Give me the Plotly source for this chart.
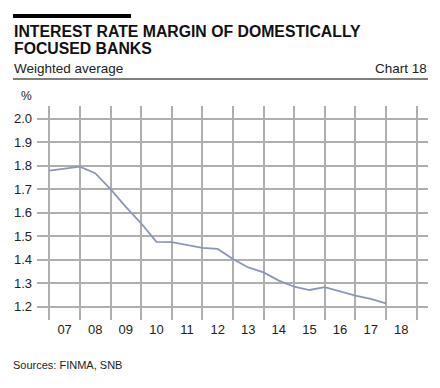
import plotly.graph_objects as go

# ---- data ----
years = [2007.0, 2008.0, 2008.5, 2009.0, 2009.5, 2010.0, 2010.5, 2011.0, 2012.0,
         2012.5, 2013.0, 2013.5, 2014.0, 2014.5, 2015.0, 2015.5, 2016.0, 2016.5,
         2017.0, 2017.5, 2018.0]
margin_pct = [1.779, 1.796, 1.768, 1.700, 1.625, 1.555, 1.476, 1.475, 1.450,
              1.446, 1.403, 1.367, 1.346, 1.311, 1.285, 1.271, 1.283, 1.265,
              1.247, 1.233, 1.214]
year_bounds = list(range(2007, 2020))
x_tick_pos = [y + 0.5 for y in range(2007, 2019)]
x_tick_labels = ["07", "08", "09", "10", "11", "12", "13", "14", "15", "16", "17", "18"]
y_ticks = [1.2, 1.3, 1.4, 1.5, 1.6, 1.7, 1.8, 1.9, 2.0]
y_tick_labels = ["1.2", "1.3", "1.4", "1.5", "1.6", "1.7", "1.8", "1.9", "2.0"]

W, H = 440, 388
L, R, T, B = 37, 428, 106, 320
FONT = "Liberation Sans, Arial, sans-serif"
TXT = "#222222"
GRID = "#afafaf"


def px(x):
    return (x - L) / (R - L)


def py(y):
    return (B - y) / (B - T)


fig = go.Figure()
fig.add_trace(go.Scatter(
    x=years, y=margin_pct, mode="lines",
    line=dict(color="#8a97b8", width=1.8),
    hoverinfo="skip", showlegend=False,
))

fig.update_layout(
    width=W, height=H,
    margin=dict(l=L, r=W - R, t=T, b=H - B, pad=0),
    paper_bgcolor="white", plot_bgcolor="white",
    font=dict(family=FONT, color=TXT, size=12),
    showlegend=False,
    xaxis=dict(
        range=[2006.598, 2019.373],
        tickmode="array", tickvals=x_tick_pos, ticktext=x_tick_labels,
        showgrid=False, zeroline=False, showline=False, ticks="",
        tickfont=dict(size=13, family=FONT, color=TXT),
        minor=dict(tickmode="array", tickvals=year_bounds, showgrid=True,
                   gridcolor=GRID, gridwidth=1.5, ticks=""),
        fixedrange=True,
    ),
    yaxis=dict(
        range=[1.1434, 2.054],
        tickmode="array", tickvals=y_ticks, ticktext=y_tick_labels,
        showgrid=True, gridcolor=GRID, gridwidth=1.5,
        zeroline=False, showline=False, ticks="",
        ticklabelstandoff=4,
        tickfont=dict(size=13, family=FONT, color=TXT),
        fixedrange=True,
    ),
)

# black bar and rule line
fig.add_shape(type="rect", xref="paper", yref="paper",
              x0=px(13), x1=px(131), y0=py(18), y1=py(14),
              fillcolor="black", line=dict(width=0))
fig.add_shape(type="line", xref="paper", yref="paper",
              x0=px(13), x1=px(428), y0=py(79), y1=py(79),
              line=dict(color="black", width=1.2))


def note(text, x, y, size, xanchor="left", bold=False):
    fig.add_annotation(
        text=f"<b>{text}</b>" if bold else text,
        xref="paper", yref="paper", x=px(x), y=py(y),
        xanchor=xanchor, yanchor="middle", showarrow=False,
        font=dict(family=FONT, size=size, color="#111111" if bold else TXT),
    )


note("INTEREST RATE MARGIN OF DOMESTICALLY", 12, 31, 15.8, bold=True)
note("FOCUSED BANKS", 12, 49, 15.8, bold=True)
note("Weighted average", 12, 69, 13.5)
note("Chart 18", 429, 69, 13.5, xanchor="right")
note("%", 26, 96, 12, xanchor="center")
note("Sources: FINMA, SNB", 11, 365, 11)

fig.write_html("out.html", config={"displayModeBar": False},
               post_script="document.body.style.margin='0';document.body.style.overflow='hidden';")
